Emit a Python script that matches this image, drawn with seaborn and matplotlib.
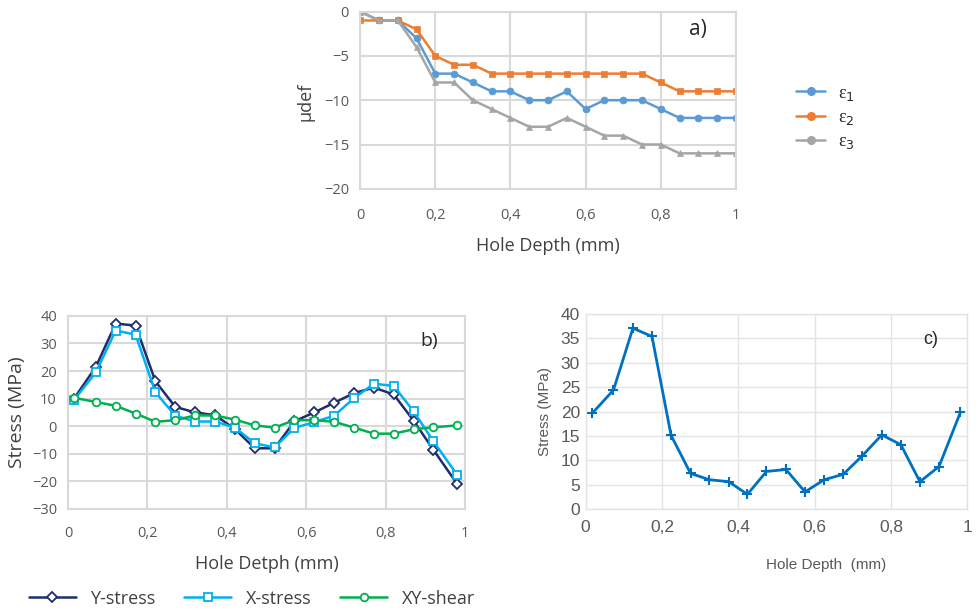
import numpy as np
import pandas as pd
import matplotlib
matplotlib.use("Agg")
import matplotlib.pyplot as plt
from matplotlib.ticker import FuncFormatter
import seaborn as sns

# --- panel a: strain readings ---
depth_a = [0, 0.05, 0.1, 0.15, 0.2, 0.25, 0.3, 0.35, 0.4, 0.45, 0.5,
           0.55, 0.6, 0.65, 0.7, 0.75, 0.8, 0.85, 0.9, 0.95, 1.0]
eps1 = [0, -1, -1, -3, -7, -7, -8, -9, -9, -10, -10, -9, -11, -10, -10, -10, -11, -12, -12, -12, -12]
eps2 = [-1, -1, -1, -2, -5, -6, -6, -7, -7, -7, -7, -7, -7, -7, -7, -7, -8, -9, -9, -9, -9]
eps3 = [0, -1, -1, -4, -8, -8, -10, -11, -12, -13, -13, -12, -13, -14, -14, -15, -15, -16, -16, -16, -16]
eps_labels = ["ε$_1$", "ε$_2$", "ε$_3$"]

# --- panel b: stress components ---
depth_b = [0.015, 0.07, 0.12, 0.17, 0.22, 0.27, 0.32, 0.37, 0.42, 0.47,
           0.52, 0.57, 0.62, 0.67, 0.72, 0.77, 0.82, 0.87, 0.92, 0.98]
y_stress = [10, 21.5, 37.2, 36.5, 16.3, 7, 5, 4, -1, -8, -8, 1.8, 5, 8.5, 12, 14, 11.5, 2, -8.6, -21]
x_stress = [9.5, 19.5, 34.7, 33.2, 12.3, 3.8, 1.7, 1.7, -0.5, -6.2, -7.7, -0.6, 1.5, 3.8, 10.2, 15.4, 14.6, 5.4, -5.5, -17.7]
xy_shear = [10.3, 8.8, 7.4, 4.6, 1.6, 2.2, 3.9, 3.9, 2.4, 0.3, -0.5, 2.2, 2.2, 1.6, -0.5, -2.7, -2.7, -1.1, -0.4, 0.3]
comp_names = ["Y-stress", "X-stress", "XY-shear"]

# --- panel c: equivalent stress ---
depth_c = [0.017, 0.073, 0.124, 0.174, 0.224, 0.275, 0.324, 0.375, 0.424, 0.474,
           0.525, 0.575, 0.625, 0.675, 0.725, 0.776, 0.826, 0.876, 0.926, 0.982]
stress_c = [19.6, 24.4, 37.1, 35.4, 15.1, 7.3, 6.0, 5.6, 3.0, 7.7,
            8.1, 3.5, 6.0, 7.1, 10.9, 15.2, 13.2, 5.6, 8.7, 19.8]

sns.set_style("white")
plt.rcParams['font.family'] = ['Open Sans', 'DejaVu Sans']

comma = FuncFormatter(lambda v, p: ("%g" % v).replace(".", ","))
GRID = "#d9d9d9"
TICK = "#595959"


def style_axes(ax, grid_color=GRID, lw=1.5):
    ax.grid(True, color=grid_color, linewidth=lw)
    for s in ax.spines.values():
        s.set_color(grid_color)
        s.set_linewidth(lw)
    ax.tick_params(length=0, colors=TICK, labelsize=10.5, pad=8)
    ax.xaxis.set_major_formatter(comma)


fig = plt.figure(figsize=(9.76, 6.11), dpi=100)

# ---------------- panel a ----------------
ax_a = fig.add_axes([0.369, 0.691, 0.385, 0.290])
pal_a = ["#5B9BD5", "#ED7D31", "#A5A5A5"]
mk_a = ["o", "s", "^"]
for vals, col, mk in zip([eps1, eps2, eps3], pal_a, mk_a):
    sns.lineplot(x=depth_a, y=vals, color=col, marker=mk, ax=ax_a,
                 linewidth=1.8, markersize=5, markeredgecolor=col, markeredgewidth=0.5)
ax_a.set_xlim(0, 1)
ax_a.set_ylim(-20, 0)
ax_a.set_xticks(np.arange(0, 1.01, 0.2))
ax_a.set_yticks(np.arange(-20, 1, 5))
style_axes(ax_a)
ax_a.tick_params(axis="x", pad=14)
ax_a.set_xlabel("Hole Depth (mm)", fontsize=13, color="#404040", labelpad=10)
ax_a.set_ylabel("μdef", fontsize=13, color="#404040")
ax_a.yaxis.set_label_coords(-0.122, 0.49)
ax_a.text(0.9, 0.9, "a)", transform=ax_a.transAxes, fontsize=15, ha="center", va="center")
handles_a = [plt.Line2D([], [], color=c, marker="o", markersize=5.5, linewidth=1.8) for c in pal_a]
fig.legend(handles_a, eps_labels, loc="upper left", bbox_to_anchor=(0.799, 0.888),
           frameon=False, handlelength=1.6, handletextpad=0.7, labelspacing=0.35,
           prop={"family": ["Liberation Serif"], "size": 13})

# ---------------- panel b ----------------
ax_b = fig.add_axes([0.0697, 0.167, 0.407, 0.316])
pal_b = ["#1F2D6B", "#00B0F0", "#00B050"]
mk_b = ["D", "s", "o"]
for vals, col, mk in zip([y_stress, x_stress, xy_shear], pal_b, mk_b):
    sns.lineplot(x=depth_b, y=vals, color=col, marker=mk, ax=ax_b,
                 linewidth=1.8, markersize=5.5, markerfacecolor="white",
                 markeredgecolor=col, markeredgewidth=1.3)
ax_b.set_xlim(0, 1)
ax_b.set_ylim(-30, 40)
ax_b.set_xticks(np.arange(0, 1.01, 0.2))
ax_b.set_yticks(np.arange(-30, 41, 10))
style_axes(ax_b)
ax_b.tick_params(axis="x", pad=12)
ax_b.set_xlabel("Hole Detph (mm)", fontsize=13, color="#404040", labelpad=10)
ax_b.set_ylabel("Stress (MPa)", fontsize=14, color="#404040", labelpad=4)
ax_b.text(0.91, 0.87, "b)", transform=ax_b.transAxes, fontsize=14, ha="center", va="center")
handles_b = [plt.Line2D([], [], color=c, marker=m, markersize=5.5, markerfacecolor="white",
                        markeredgecolor=c, markeredgewidth=1.3, linewidth=1.8)
             for c, m in zip(pal_b, mk_b)]
fig.legend(handles_b, comp_names, loc="center", bbox_to_anchor=(0.258, 0.02), ncol=3,
           frameon=False, handlelength=2.6, columnspacing=1.6,
           prop={"size": 13}, labelcolor="#404040")

# ---------------- panel c ----------------
ax_c = fig.add_axes([0.600, 0.167, 0.391, 0.319])
df_c = pd.DataFrame({"depth": depth_c, "stress": stress_c})
sns.lineplot(data=df_c, x="depth", y="stress", color="#0070C0", marker="+",
             markersize=7, markeredgecolor="#0070C0", markeredgewidth=1.5,
             linewidth=2.0, ax=ax_c)
ax_c.set_xlim(0, 1)
ax_c.set_ylim(0, 40)
ax_c.set_xticks(np.arange(0, 1.01, 0.2))
ax_c.set_yticks(np.arange(0, 41, 5))
style_axes(ax_c, grid_color="#e4e4e4", lw=1.0)
for lab in ax_c.get_xticklabels() + ax_c.get_yticklabels():
    lab.set_family(["Liberation Sans"])
    lab.set_fontsize(12.5)
ax_c.tick_params(pad=4)
ax_c.tick_params(axis="x", pad=8)
ax_c.set_xlabel("Hole Depth  (mm)", fontsize=11, color="#595959",
                family=["Liberation Sans"])
ax_c.xaxis.set_label_coords(0.63, -0.25)
ax_c.set_ylabel("Stress (MPa)", fontsize=11, color="#595959", labelpad=6,
                family=["Liberation Sans"])
ax_c.text(0.905, 0.87, "c)", transform=ax_c.transAxes, fontsize=13, ha="center", va="center",
          family=["Liberation Sans"])

fig.savefig("out.png", dpi=100)
